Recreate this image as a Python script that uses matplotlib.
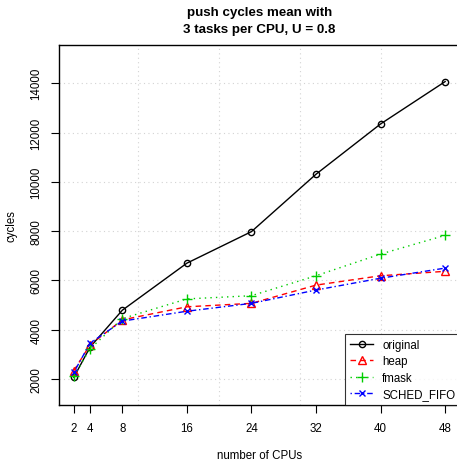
import matplotlib
matplotlib.use("Agg")
import matplotlib.pyplot as plt

plt.rcParams['font.family'] = ['Liberation Sans', 'DejaVu Sans']

# --- data
cpus = [2, 4, 8, 16, 24, 32, 40, 48]
original = [2070, 3290, 4790, 6700, 7980, 10310, 12350, 14070]
heap = [2340, 3380, 4400, 4930, 5070, 5810, 6190, 6370]
fmask = [2130, 3220, 4450, 5250, 5380, 6190, 7070, 7830]
sched_fifo = [2270, 3450, 4350, 4750, 5070, 5610, 6090, 6500]

x_ticks = [2, 4, 8, 16, 24, 32, 40, 48]
y_ticks = [2000, 4000, 6000, 8000, 10000, 12000, 14000]
x_grid = [10, 20, 30, 40]

fig = plt.figure(figsize=(4.57, 4.64), dpi=100)
ax = fig.add_axes([59 / 457, 58 / 464, 401 / 457, 360 / 464])

# dotted grid like R's grid()
for gx in x_grid:
    ax.axvline(gx, color='lightgray', linestyle=(0, (1, 3)), linewidth=0.8, zorder=0)
for gy in y_ticks:
    ax.axhline(gy, color='lightgray', linestyle=(0, (1, 3)), linewidth=0.8, zorder=0)

ax.plot(cpus, original, color='black', linestyle='-', marker='o', markersize=4.5,
        markerfacecolor='none', linewidth=1.0, label='original')
ax.plot(cpus, heap, color='red', linestyle=(0, (4, 3)), marker='^', markersize=5.5,
        markerfacecolor='none', linewidth=1.0, label='heap')
ax.plot(cpus, fmask, color='#00cd00', linestyle=(0, (1, 3)), marker='+', markersize=7,
        linewidth=1.0, label='fmask')
ax.plot(cpus, sched_fifo, color='blue', linestyle=(0, (1, 2, 4, 2)), marker='x', markersize=5,
        linewidth=1.0, label='SCHED_FIFO')

ax.set_xlim(0.16, 49.84)
ax.set_ylim(945, 15554)
ax.set_xticks(x_ticks)
ax.set_yticks(y_ticks)
ax.set_yticklabels([str(v) for v in y_ticks], rotation=90, va='center')
ax.tick_params(direction='out', length=6, width=0.8, labelsize=8.3, pad=6)
for s in ax.spines.values():
    s.set_linewidth(1.0)

ax.set_xlabel('number of CPUs', fontsize=8.3, labelpad=11)
ax.set_ylabel('cycles', fontsize=8.3, labelpad=9)
ax.set_title('push cycles mean with\n3 tasks per CPU, U = 0.8', fontsize=9.6,
             fontweight='bold', pad=9.5, linespacing=1.5)

leg = ax.legend(loc='lower right', fontsize=8.3, frameon=True, fancybox=False,
                borderaxespad=0, handlelength=2.0, labelspacing=0.4,
                borderpad=0.4, handletextpad=0.8)
leg.get_frame().set_edgecolor('black')
leg.get_frame().set_linewidth(0.8)

fig.savefig('out.png', dpi=100)
